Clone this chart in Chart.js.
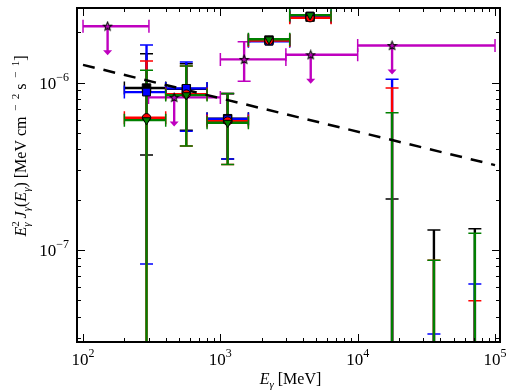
<!DOCTYPE html>
<html>
<head>
<meta charset="utf-8">
<script src="https://cdn.jsdelivr.net/npm/chart.js@4.4.1/dist/chart.umd.min.js"></script>
<style>
  html, body { margin: 0; padding: 0; background: #fff; }
</style>
</head>
<body>
<canvas id="chartSed" width="510" height="392"></canvas>
<script>
// energy bins [MeV]
const binE   = [290, 565, 1130, 2260, 4500, 17800, 35900, 71300];
const binELo = [200, 400, 800, 1600, 3200, null, null, null];
const binEHi = [400, 800, 1600, 3200, 6400, null, null, null];

// E^2 J [MeV cm^-2 s^-1]; null value = central value below the plot
const blackVal = [9.3e-7, 9.2e-7, 6.1e-7, 1.80e-6, 2.47e-6, null, null, null];
const blackLo  = [3.7e-7, 5.2e-7, 3.5e-7, null, null, 1e-9, 1e-9, 1e-9];
const blackHi  = [1.49e-6, 1.30e-6, 8.6e-7, null, null, 2.02e-7, 1.32e-7, 1.34e-7];

const blueVal = [8.8e-7, 9.26e-7, 6.07e-7, 1.77e-6, 2.51e-6, null, null, null];
const blueLo  = [8.24e-8, 5.14e-7, 3.50e-7, null, null, 1e-9, 1e-9, 1e-9];
const blueHi  = [1.68e-6, 1.33e-6, 8.64e-7, null, null, 1.05e-6, 3.15e-8, 6.27e-8];

const redVal = [6.18e-7, 8.56e-7, 5.9e-7, 1.79e-6, 2.45e-6, null, null, null];
const redLo  = [1e-9, 4.19e-7, 3.25e-7, null, null, 1e-9, 1e-9, 1e-9];
const redHi  = [1.35e-6, 1.26e-6, 8.64e-7, null, null, 9.3e-7, 8.7e-8, 4.98e-8];

const greenVal = [5.98e-7, 8.44e-7, 5.77e-7, 1.82e-6, 2.54e-6, null, null, null];
const greenLo  = [1e-9, 4.19e-7, 3.25e-7, null, null, 1e-9, 1e-9, 1e-9];
const greenHi  = [1.19e-6, 1.26e-6, 8.64e-7, null, null, 6.62e-7, 8.7e-8, 1.26e-7];

// magenta points: upper limits (arrows) and one detection
const magE   = [151, 461, 1490, 4550, 17800];
const magELo = [100, 300, 1000, 3000, 10000];
const magEHi = [302, 1000, 3000, 10000, 100000];
const magVal = [2.18e-6, 8.18e-7, 1.38e-6, 1.47e-6, 1.67e-6];
const magLo  = [null, null, 1.02e-6, null, null];
const magHi  = [null, null, 1.76e-6, null, null];
const magUL  = [true, true, false, true, true];

// power-law model (dashed)
const modelE = [100, 100000];
const modelY = [1.28e-6, 3.22e-7];

// axes
const xMin = 90.4, xMax = 1.087e5;
const yMin = 2.82e-8, yMax = 2.80e-6;
const xTickVals = [1e2, 1e3, 1e4, 1e5];
const xTickLabels = ['10^2', '10^3', '10^4', '10^5'];
const yTickVals = [1e-6, 1e-7];
const yTickLabels = ['10^\u22126', '10^\u22127'];

const MAGENTA = '#bf00bf';
const SERIF = '"Liberation Serif", "DejaVu Serif", serif';

const series = [
    { color: '#000000', val: blackVal, lo: blackLo, hi: blackHi },
    { color: '#0000ff', val: blueVal, lo: blueLo, hi: blueHi },
    { color: '#ff0000', val: redVal, lo: redLo, hi: redHi },
    { color: '#008000', val: greenVal, lo: greenLo, hi: greenHi }
];

function pts(vals) {
    return binE.map((e, i) => vals[i] == null ? null : { x: e, y: vals[i] }).filter(p => p);
}

function starImage() {
    const c = document.createElement('canvas');
    c.width = 11; c.height = 11;
    const g = c.getContext('2d');
    g.beginPath();
    for (let k = 0; k < 10; k++) {
        const r = k % 2 ? 1.9 : 4.4;
        const a = -Math.PI / 2 + k * Math.PI / 5;
        g.lineTo(5.5 + r * Math.cos(a), 5.8 + r * Math.sin(a));
    }
    g.closePath();
    g.fillStyle = 'rgba(191,0,191,0.35)';
    g.fill();
    g.lineWidth = 1.1;
    g.strokeStyle = '#000';
    g.stroke();
    return c;
}

function hBar(ctx, x1, x2, y, color) {
    ctx.strokeStyle = color;
    ctx.lineWidth = 2.4;
    ctx.beginPath(); ctx.moveTo(x1, y); ctx.lineTo(x2, y); ctx.stroke();
    ctx.lineWidth = 1.5;
    ctx.beginPath();
    ctx.moveTo(x1, y - 6.5); ctx.lineTo(x1, y + 6.5);
    ctx.moveTo(x2, y - 6.5); ctx.lineTo(x2, y + 6.5);
    ctx.stroke();
}

function vBar(ctx, x, y1, y2, color) {
    ctx.strokeStyle = color;
    ctx.lineWidth = 2.4;
    ctx.beginPath(); ctx.moveTo(x, y1); ctx.lineTo(x, y2); ctx.stroke();
    ctx.lineWidth = 1.5;
    ctx.beginPath();
    ctx.moveTo(x - 6.5, y1); ctx.lineTo(x + 6.5, y1);
    ctx.moveTo(x - 6.5, y2); ctx.lineTo(x + 6.5, y2);
    ctx.stroke();
}

function arrowDown(ctx, x, y, color) {
    const len = 29;
    ctx.strokeStyle = color;
    ctx.fillStyle = color;
    ctx.lineWidth = 2.4;
    ctx.beginPath(); ctx.moveTo(x, y); ctx.lineTo(x, y + len - 4); ctx.stroke();
    ctx.beginPath();
    ctx.moveTo(x - 4.5, y + len - 5); ctx.lineTo(x + 4.5, y + len - 5); ctx.lineTo(x, y + len);
    ctx.closePath(); ctx.fill();
}

// text in pieces: {t, f, dy, adv}
function drawRuns(ctx, runs, x, y) {
    let w = 0;
    runs.forEach(r => {
        ctx.font = r.f;
        r.w = ctx.measureText(r.t).width;
        if (r.adv !== false) w += r.w;
    });
    let cx = x - w / 2;
    runs.forEach(r => {
        ctx.font = r.f;
        ctx.fillText(r.t, cx, y + (r.dy || 0));
        if (r.adv !== false) cx += r.w;
    });
}

function tickRuns(label, size) {
    const [base, exp] = label.split('^');
    return [
        { t: base, f: `${size}px ${SERIF}` },
        { t: exp, f: `${Math.round(size * 0.7)}px ${SERIF}`, dy: -size * 0.45 }
    ];
}

function minorVals(min, max) {
    const out = [];
    for (let p = Math.floor(Math.log10(min)); p <= Math.ceil(Math.log10(max)); p++) {
        for (let k = 1; k <= 9; k++) {
            const v = k * Math.pow(10, p);
            if (v >= min && v <= max) out.push({ v, major: k === 1 });
        }
    }
    return out;
}

const sedPlugin = {
    id: 'sedPlugin',
    beforeDatasetsDraw(chart) {
        const { ctx, chartArea: a, scales: { x, y } } = chart;
        ctx.save();
        ctx.beginPath();
        ctx.rect(a.left, a.top, a.right - a.left, a.bottom - a.top);
        ctx.clip();
        ctx.lineCap = 'butt';

        magE.forEach((e, i) => {
            const px = x.getPixelForValue(e);
            const py = y.getPixelForValue(magVal[i]);
            hBar(ctx, x.getPixelForValue(magELo[i]), x.getPixelForValue(magEHi[i]), py, MAGENTA);
            if (magUL[i]) arrowDown(ctx, px, py, MAGENTA);
            else vBar(ctx, px, y.getPixelForValue(magLo[i]), y.getPixelForValue(magHi[i]), MAGENTA);
        });

        series.forEach(s => {
            binE.forEach((e, i) => {
                const px = x.getPixelForValue(e);
                if (s.lo[i] != null) {
                    vBar(ctx, px, y.getPixelForValue(s.lo[i]), y.getPixelForValue(s.hi[i]), s.color);
                }
                if (s.val[i] != null && binELo[i] != null) {
                    hBar(ctx, x.getPixelForValue(binELo[i]), x.getPixelForValue(binEHi[i]),
                        y.getPixelForValue(s.val[i]), s.color);
                }
            });
        });
        ctx.restore();
    },
    afterDraw(chart) {
        const { ctx, chartArea: a, scales: { x, y } } = chart;
        ctx.save();
        ctx.strokeStyle = '#000';
        ctx.fillStyle = '#000';

        // inward ticks on all four sides
        ctx.lineWidth = 1;
        ctx.beginPath();
        minorVals(xMin, xMax).forEach(t => {
            const px = Math.round(x.getPixelForValue(t.v)) + 0.5;
            const len = t.major ? 8 : 4;
            ctx.moveTo(px, a.bottom); ctx.lineTo(px, a.bottom - len);
            ctx.moveTo(px, a.top); ctx.lineTo(px, a.top + len);
        });
        minorVals(yMin, yMax).forEach(t => {
            const py = Math.round(y.getPixelForValue(t.v)) + 0.5;
            const len = t.major ? 8 : 4;
            ctx.moveTo(a.left, py); ctx.lineTo(a.left + len, py);
            ctx.moveTo(a.right, py); ctx.lineTo(a.right - len, py);
        });
        ctx.stroke();

        // frame
        ctx.lineWidth = 2;
        ctx.strokeRect(a.left, a.top, a.right - a.left, a.bottom - a.top);

        // tick labels
        ctx.textBaseline = 'alphabetic';
        ctx.textAlign = 'left';
        xTickVals.forEach((v, i) => {
            drawRuns(ctx, tickRuns(xTickLabels[i], 17), x.getPixelForValue(v), a.bottom + 23);
        });
        yTickVals.forEach((v, i) => {
            const runs = tickRuns(yTickLabels[i], 17);
            let w = 0;
            runs.forEach(r => { ctx.font = r.f; w += ctx.measureText(r.t).width; });
            drawRuns(ctx, runs, a.left - 8 - w / 2, y.getPixelForValue(v) + 6);
        });

        // axis titles
        const it = `italic 16px ${SERIF}`, rm = `16px ${SERIF}`;
        const sit = `italic 11px ${SERIF}`, srm = `11px ${SERIF}`;
        drawRuns(ctx, [
            { t: 'E', f: it },
            { t: '\u03b3', f: sit, dy: 4 },
            { t: ' [MeV]', f: rm }
        ], (a.left + a.right) / 2 + 2, 384);

        ctx.translate(21, 146);
        ctx.rotate(-Math.PI / 2);
        drawRuns(ctx, [
            { t: 'E', f: it },
            { t: '2', f: srm, dy: -7, adv: false },
            { t: '\u03b3', f: sit, dy: 4 },
            { t: ' J', f: it },
            { t: '\u03b3', f: sit, dy: 4 },
            { t: '(', f: rm },
            { t: 'E', f: it },
            { t: '\u03b3', f: sit, dy: 4 },
            { t: ') [MeV cm', f: rm },
            { t: '  \u2212  2', f: srm, dy: -7 },
            { t: ' s', f: rm },
            { t: '  \u2212  1', f: srm, dy: -7 },
            { t: ']', f: rm }
        ], 0, 5);
        ctx.restore();
    }
};

const star = starImage();

const datasets = [
    {
        label: 'green', data: pts(greenVal), order: 0,
        pointStyle: 'triangle', rotation: 180, pointRadius: 4.8,
        backgroundColor: '#008000', borderColor: '#000', borderWidth: 1
    },
    {
        label: 'red', data: pts(redVal), order: 1,
        pointStyle: 'circle', pointRadius: 4.2,
        backgroundColor: '#ff0000', borderColor: '#000', borderWidth: 1
    },
    {
        label: 'blue', data: pts(blueVal), order: 2,
        pointStyle: 'rect', pointRadius: 5.5,
        backgroundColor: '#0000ff', borderColor: '#000', borderWidth: 1
    },
    {
        label: 'black', data: pts(blackVal), order: 3,
        pointStyle: 'rect', pointRadius: 6,
        backgroundColor: '#000', borderColor: '#000', borderWidth: 1
    },
    {
        label: 'limits', data: magE.map((e, i) => ({ x: e, y: magVal[i] })), order: 4,
        pointStyle: star, pointRadius: 5
    },
    {
        label: 'model', type: 'line', order: 5,
        data: modelE.map((e, i) => ({ x: e, y: modelY[i] })),
        borderColor: '#000', borderWidth: 2.5, borderDash: [12, 9],
        pointRadius: 0, fill: false
    }
];

new Chart(document.getElementById('chartSed').getContext('2d'), {
    type: 'scatter',
    data: { datasets },
    options: {
        responsive: false,
        animation: false,
        layout: { padding: { left: 77, top: 8, right: 10, bottom: 50 } },
        scales: {
            x: {
                type: 'logarithmic', min: xMin, max: xMax,
                ticks: { display: false },
                grid: { display: false, drawTicks: false },
                border: { display: false }
            },
            y: {
                type: 'logarithmic', min: yMin, max: yMax,
                ticks: { display: false },
                grid: { display: false, drawTicks: false },
                border: { display: false }
            }
        },
        plugins: {
            legend: { display: false },
            tooltip: { enabled: false }
        }
    },
    plugins: [sedPlugin]
});
</script>
</body>
</html>
